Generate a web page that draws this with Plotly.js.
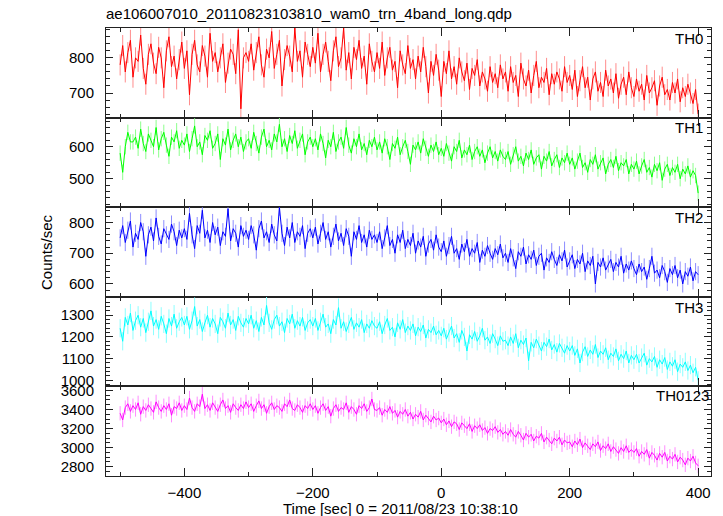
<!DOCTYPE html>
<html>
<head>
<meta charset="utf-8">
<script src="https://cdn.plot.ly/plotly-3.0.1.min.js"></script>
<style>html,body{margin:0;padding:0;background:#fff;}#chart{width:723px;height:516px;}</style>
</head>
<body>
<div id="chart"></div>
<script>
// time bins (sec), start and bin width
const T_START = -500;
const T_BIN = 4;

const bandNames = ["TH0", "TH1", "TH2", "TH3", "TH0123"];

const TH0 = [
780, 835, 760, 815, 850, 745, 800, 790, 865, 770, 725, 810, 840, 785, 755, 830, 800, 715, 820, 860, 775, 805, 740, 795, 845,
770, 820, 695, 810, 850, 780, 760, 835, 805, 745, 870, 790, 815, 760, 800, 840, 730, 785, 825, 810, 755, 880, 655, 800, 815,
790, 840, 765, 815, 860, 780, 745, 825, 800, 875, 770, 810, 850, 720, 795, 835, 805, 760, 885, 790, 820, 745, 845, 810, 775,
830, 785, 870, 760, 810, 845, 790, 735, 820, 860, 775, 800, 885, 765, 815, 740, 830, 795, 850, 770, 805, 725, 840, 790, 760,
815, 770, 845, 750, 800, 830, 765, 790, 715, 820, 780, 755, 835, 770, 795, 740, 805, 760, 830, 775, 700, 790, 750, 810, 765,
690, 790, 755, 820, 740, 775, 725, 800, 760, 735, 785, 710, 770, 750, 795, 720, 760, 740, 705, 775, 730, 755, 715, 780, 740,
760, 705, 775, 730, 750, 690, 785, 740, 720, 765, 700, 750, 790, 715, 745, 730, 770, 695, 755, 725, 760, 740, 705, 775, 730,
750, 710, 765, 690, 735, 775, 715, 745, 680, 740, 760, 705, 730, 690, 765, 720, 740, 700, 755, 685, 725, 745, 695, 760, 715,
690, 740, 705, 725, 680, 750, 700, 715, 735, 665, 720, 745, 695, 710, 680, 730, 700, 740, 675, 715, 690, 725, 700, 670, 710,
640];

const TH1 = [
580, 520, 600, 645, 615, 615, 630, 595, 655, 610, 585, 640, 620, 600, 660, 590, 625, 645, 605, 570, 630, 615, 650, 595, 620,
605, 640, 585, 625, 665, 600, 615, 575, 635, 620, 650, 595, 610, 640, 560, 625, 605, 655, 590, 620, 640, 600, 630, 585, 615,
625, 595, 645, 610, 580, 630, 655, 600, 620, 590, 640, 615, 670, 600, 625, 585, 635, 610, 650, 595, 620, 640, 575, 615, 630,
600, 625, 590, 640, 610, 565, 620, 600, 645, 585, 615, 630, 595, 660, 605, 580, 625, 600, 640, 590, 610, 575, 620, 600, 630,
590, 615, 580, 625, 600, 560, 610, 595, 630, 575, 600, 620, 585, 545, 605, 590, 615, 580, 625, 595, 570, 605, 585, 615, 575,
595, 570, 610, 580, 555, 600, 585, 620, 565, 590, 575, 605, 560, 585, 600, 570, 590, 550, 580, 600, 565, 585, 555, 590, 570,
560, 585, 545, 575, 600, 555, 570, 540, 580, 560, 590, 545, 565, 575, 530, 570, 555, 585, 540, 560, 575, 535, 565, 550, 580,
545, 565, 530, 555, 580, 535, 550, 520, 560, 545, 575, 530, 550, 565, 515, 545, 560, 535, 570, 525, 550, 540, 560, 515, 545,
530, 555, 515, 540, 560, 520, 535, 505, 545, 525, 550, 495, 530, 545, 510, 535, 520, 545, 500, 530, 515, 540, 505, 525, 510,
455];

const TH2 = [
750, 790, 735, 775, 805, 720, 765, 745, 800, 770, 690, 760, 785, 740, 815, 755, 730, 780, 760, 745, 795, 770, 725, 775, 750,
780, 745, 830, 760, 715, 790, 765, 840, 750, 775, 735, 800, 760, 785, 725, 770, 755, 845, 740, 780, 765, 720, 790, 755, 775,
745, 790, 760, 710, 780, 805, 750, 770, 735, 795, 760, 740, 850, 765, 725, 785, 750, 800, 735, 770, 755, 790, 715, 765, 780,
750, 785, 730, 765, 800, 745, 770, 720, 755, 795, 740, 765, 725, 780, 755, 690, 770, 745, 790, 735, 760, 720, 775, 745, 760,
735, 770, 715, 750, 790, 725, 745, 700, 760, 735, 775, 715, 745, 725, 765, 700, 740, 720, 755, 690, 730, 745, 710, 760, 720,
705, 740, 690, 725, 755, 700, 715, 680, 730, 705, 745, 690, 715, 700, 735, 670, 710, 690, 725, 700, 680, 715, 695, 730, 685,
700, 670, 715, 685, 650, 705, 690, 720, 665, 695, 680, 710, 660, 690, 700, 645, 685, 670, 705, 680, 660, 695, 675, 710, 655,
675, 695, 650, 680, 665, 700, 640, 675, 660, 690, 600, 670, 655, 685, 645, 665, 680, 640, 670, 655, 690, 635, 665, 645, 675,
650, 630, 665, 640, 655, 615, 650, 690, 635, 645, 620, 660, 640, 605, 650, 630, 660, 620, 645, 600, 640, 625, 655, 610, 640,
630];

const TH3 = [
1240, 1180, 1290, 1255, 1310, 1230, 1275, 1300, 1245, 1285, 1220, 1270, 1320, 1250, 1280, 1235, 1295, 1260, 1215, 1285, 1250, 1305, 1240, 1270, 1290,
1255, 1295, 1235, 1275, 1340, 1250, 1280, 1225, 1265, 1300, 1245, 1285, 1260, 1215, 1290, 1270, 1240, 1310, 1255, 1280, 1230, 1295, 1265, 1245, 1285,
1260, 1300, 1240, 1275, 1225, 1290, 1255, 1345, 1265, 1235, 1280, 1300, 1250, 1270, 1220, 1285, 1260, 1305, 1240, 1275, 1250, 1290, 1230, 1265, 1280,
1250, 1285, 1230, 1270, 1305, 1245, 1260, 1215, 1280, 1255, 1335, 1240, 1270, 1225, 1260, 1290, 1235, 1265, 1245, 1280, 1220, 1260, 1240, 1275, 1250,
1240, 1270, 1215, 1255, 1285, 1230, 1245, 1200, 1265, 1235, 1280, 1220, 1250, 1230, 1260, 1205, 1245, 1225, 1255, 1195, 1235, 1220, 1250, 1210, 1230,
1205, 1240, 1190, 1220, 1250, 1195, 1215, 1175, 1230, 1200, 1135, 1210, 1190, 1225, 1180, 1205, 1240, 1185, 1200, 1170, 1215, 1190, 1160, 1205, 1180,
1185, 1160, 1200, 1170, 1215, 1150, 1185, 1165, 1195, 1090, 1175, 1150, 1190, 1160, 1135, 1175, 1155, 1190, 1140, 1165, 1130, 1170, 1150, 1125, 1160,
1135, 1160, 1115, 1145, 1080, 1130, 1155, 1110, 1140, 1120, 1165, 1105, 1135, 1120, 1150, 1095, 1125, 1110, 1145, 1090, 1120, 1100, 1135, 1080, 1115,
1095, 1120, 1080, 1105, 1125, 1070, 1100, 1085, 1110, 1060, 1095, 1075, 1105, 1050, 1085, 1065, 1095, 1040, 1075, 1060, 1085, 1045, 1070, 1035, 1060,
1000];

const TH0123 = [
3360, 3290, 3420, 3460, 3380, 3440, 3400, 3470, 3350, 3430, 3390, 3450, 3410, 3370, 3480, 3420, 3380, 3440, 3400, 3460, 3340, 3430, 3410, 3470, 3390,
3440, 3400, 3520, 3420, 3380, 3460, 3430, 3560, 3410, 3450, 3390, 3470, 3420, 3380, 3450, 3500, 3410, 3440, 3370, 3460, 3420, 3390, 3450, 3410, 3480,
3420, 3460, 3380, 3440, 3490, 3410, 3450, 3360, 3430, 3470, 3400, 3440, 3420, 3380, 3460, 3430, 3500, 3410, 3390, 3450, 3420, 3370, 3440, 3410, 3460,
3400, 3440, 3360, 3420, 3460, 3390, 3430, 3330, 3410, 3450, 3380, 3420, 3400, 3470, 3370, 3430, 3400, 3350, 3440, 3410, 3460, 3380, 3420, 3510, 3400,
3390, 3420, 3340, 3400, 3370, 3430, 3360, 3390, 3320, 3380, 3350, 3400, 3330, 3370, 3300, 3350, 3320, 3380, 3290, 3340, 3310, 3270, 3330, 3290, 3310,
3260, 3300, 3240, 3280, 3220, 3270, 3250, 3190, 3260, 3230, 3200, 3250, 3170, 3230, 3200, 3240, 3180, 3210, 3150, 3200, 3180, 3220, 3160, 3190, 3140,
3170, 3130, 3190, 3140, 3110, 3170, 3130, 3080, 3150, 3110, 3140, 3070, 3120, 3100, 3150, 3060, 3110, 3080, 3040, 3100, 3070, 3110, 3030, 3080, 3050,
3060, 3010, 3070, 3030, 3090, 3000, 3050, 3020, 2980, 3040, 3010, 3060, 2970, 3020, 2990, 3040, 2960, 3010, 2980, 2940, 3000, 2960, 3020, 2950, 2980,
2950, 2990, 2910, 2960, 2930, 2980, 2890, 2950, 2920, 2870, 2940, 2900, 2950, 2860, 2910, 2880, 2930, 2850, 2900, 2870, 2820, 2890, 2860, 2910, 2840,
2810];

// approximate 1-sigma error per band (counts/sec)
const bandErrors = [30, 24, 28, 42, 75];

const series = [TH0, TH1, TH2, TH3, TH0123];
const lineColors = ["#ff0000", "#00ff00", "#0000ff", "#00ffff", "#ff00ff"];
const errColors  = ["#ff8c8c", "#8cff8c", "#8c8cff", "#8cffff", "#ff8cff"];
const yRanges = [[630, 885], [411, 691], [558, 850], [972, 1385], [2703, 3642]];
const yDticks = [100, 100, 100, 100, 200];
const yMinor  = [20, 20, 20, 20, 50];
const labelPos = [[0.99, 0.885], [0.99, 0.885], [0.99, 0.885], [0.99, 0.885], [1.0, 0.894]];

const times = TH0.map((_, i) => T_START + i * T_BIN);

const FONT = "Liberation Sans, Arial, Helvetica, sans-serif";
const AXC = "#222222";

const traces = series.map((vals, k) => ({
  type: "scatter",
  mode: "lines",
  x: times,
  y: vals,
  xaxis: k === 0 ? "x" : "x" + (k + 1),
  yaxis: k === 0 ? "y" : "y" + (k + 1),
  line: {color: lineColors[k], width: 1},
  error_y: {type: "constant", value: bandErrors[k], color: errColors[k], thickness: 1, width: 0},
  hoverinfo: "x+y",
  showlegend: false
}));

const layout = {
  width: 723,
  height: 516,
  margin: {l: 106, r: 12, t: 28, b: 40},
  paper_bgcolor: "#ffffff",
  plot_bgcolor: "#ffffff",
  font: {family: FONT, size: 15, color: "#000"},
  showlegend: false,
  title: {
    text: "ae106007010_20110823103810_wam0_trn_4band_long.qdp",
    x: 106 / 723, xanchor: "left", xref: "container",
    y: 1 - 14 / 516, yanchor: "middle", yref: "container",
    font: {family: FONT, size: 15, color: "#000"}
  },
  annotations: []
};

for (let k = 0; k < 5; k++) {
  const sx = k === 0 ? "" : String(k + 1);
  const top = 1 - 0.2 * k;
  const bottom = 1 - 0.2 * (k + 1);
  const xa = {
    anchor: "y" + sx,
    range: [-522, 420],
    showgrid: false, zeroline: false,
    showline: true, linecolor: AXC, linewidth: 1,
    mirror: "ticks",
    ticks: "inside", ticklen: 8, tickwidth: 1, tickcolor: AXC,
    dtick: 200, tick0: 0,
    minor: {ticks: "inside", ticklen: 4, dtick: 100, tick0: 0, tickcolor: AXC, showgrid: false},
    showticklabels: k === 4,
    ticklabelstandoff: 3,
    tickfont: {family: FONT, size: 15, color: "#000"}
  };
  if (k > 0) xa.matches = "x";
  layout["xaxis" + sx] = xa;
  layout["yaxis" + sx] = {
    anchor: "x" + sx,
    domain: [Math.max(0, bottom), Math.min(1, top)],
    range: yRanges[k],
    showgrid: false, zeroline: false,
    showline: true, linecolor: AXC, linewidth: 1,
    mirror: "ticks",
    ticks: "inside", ticklen: 7, tickwidth: 1, tickcolor: AXC,
    dtick: yDticks[k], tick0: 0,
    minor: {ticks: "inside", ticklen: 4, dtick: yMinor[k], tick0: 0, tickcolor: AXC, showgrid: false},
    ticklabelstandoff: 8,
    tickfont: {family: FONT, size: 15, color: "#000"}
  };
  layout.annotations.push({
    text: bandNames[k],
    xref: "x" + sx + " domain", yref: "y" + sx + " domain",
    x: labelPos[k][0], y: labelPos[k][1],
    xanchor: "right", yanchor: "middle",
    showarrow: false,
    font: {family: FONT, size: 15, color: "#000"}
  });
}

layout.annotations.push({
  text: "Counts/sec",
  xref: "paper", yref: "paper",
  x: (46 - 106) / 605, y: 0.5,
  xanchor: "center", yanchor: "middle",
  textangle: -90,
  showarrow: false,
  font: {family: FONT, size: 15, color: "#000"}
});
layout.annotations.push({
  text: "Time [sec] 0 = 2011/08/23 10:38:10",
  xref: "paper", yref: "paper",
  x: (400 - 106) / 605, y: (476 - 508) / 448,
  xanchor: "center", yanchor: "middle",
  showarrow: false,
  font: {family: FONT, size: 15, color: "#000"}
});

Plotly.newPlot("chart", traces, layout, {displayModeBar: false, staticPlot: true});
</script>
</body>
</html>
